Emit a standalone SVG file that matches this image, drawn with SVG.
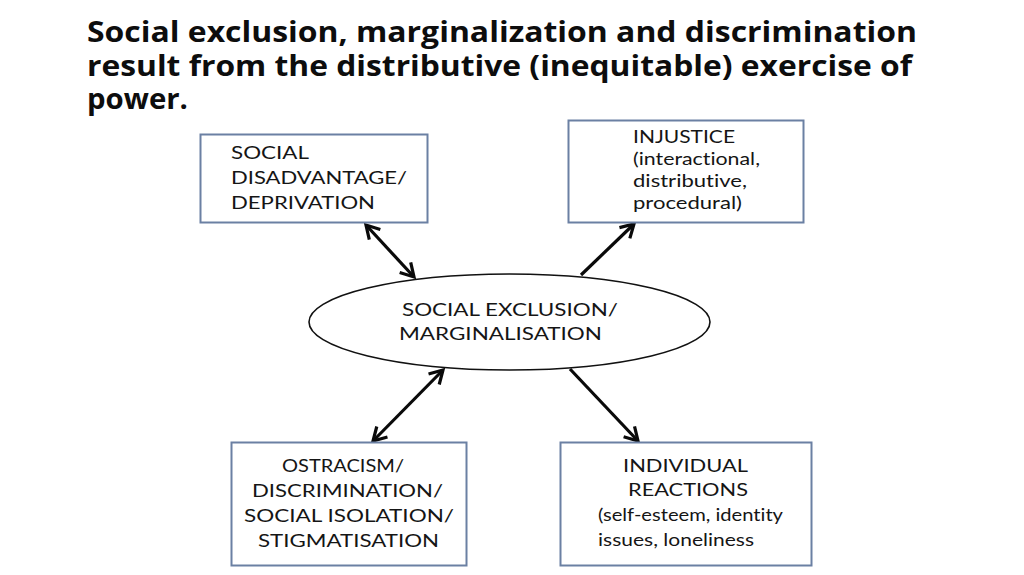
<svg xmlns="http://www.w3.org/2000/svg" width="1024" height="575" viewBox="0 0 1024 575">
<defs>
<style>
.title{font-family:"Open Sans","Noto Sans","Liberation Sans",sans-serif;font-weight:700;font-size:29px;fill:#0d0d0d}
.box{fill:#fff;stroke:#6b80a3;stroke-width:2}
.ell{fill:#fff;stroke:#111;stroke-width:1.6}
.lbl{font-family:Lato,"Open Sans","Liberation Sans",sans-serif;font-size:18px;fill:#151515;font-variant-ligatures:none}
.conn{stroke:#0a0a0a;stroke-width:3.2;fill:none}
</style>
<marker id="ah" viewBox="0 0 18 18" refX="15" refY="9" markerWidth="18" markerHeight="18" markerUnits="userSpaceOnUse" orient="auto-start-reverse">
<path d="M2,1.5 L15,9 L2,16.5" fill="none" stroke="#0a0a0a" stroke-width="3.2"/>
</marker>
</defs>
<rect width="1024" height="575" fill="#fff"/>
<g id="title">
<text class="title" x="87" y="42" textLength="830" lengthAdjust="spacingAndGlyphs">Social exclusion, marginalization and discrimination</text>
<text class="title" x="87" y="76" textLength="825" lengthAdjust="spacingAndGlyphs">result from the distributive (inequitable) exercise of</text>
<text class="title" x="87" y="109" textLength="101" lengthAdjust="spacingAndGlyphs">power.</text>
</g>
<g id="connectors">
<line class="conn" x1="366" y1="225" x2="414" y2="277" marker-start="url(#ah)" marker-end="url(#ah)"/>
<line class="conn" x1="581" y1="275" x2="634" y2="224" marker-end="url(#ah)"/>
<line class="conn" x1="443" y1="370" x2="373" y2="441" marker-start="url(#ah)" marker-end="url(#ah)"/>
<line class="conn" x1="570" y1="369" x2="638" y2="441" marker-end="url(#ah)"/>
</g>
<g id="node-disadvantage">
<rect class="box" x="200.5" y="134.5" width="227" height="88"/>
<text class="lbl" x="231" y="159" textLength="78" lengthAdjust="spacingAndGlyphs">SOCIAL</text>
<text class="lbl" x="231" y="184" textLength="176" lengthAdjust="spacingAndGlyphs">DISADVANTAGE/</text>
<text class="lbl" x="231" y="209" textLength="144" lengthAdjust="spacingAndGlyphs">DEPRIVATION</text>
</g>
<g id="node-injustice">
<rect class="box" x="568.5" y="120.5" width="235" height="102"/>
<text class="lbl" x="633" y="143" textLength="102" lengthAdjust="spacingAndGlyphs">INJUSTICE</text>
<text class="lbl" x="633" y="165" textLength="127" lengthAdjust="spacingAndGlyphs">(interactional,</text>
<text class="lbl" x="633" y="187" textLength="114" lengthAdjust="spacingAndGlyphs">distributive,</text>
<text class="lbl" x="633" y="209" textLength="109" lengthAdjust="spacingAndGlyphs">procedural)</text>
</g>
<g id="node-exclusion">
<ellipse class="ell" cx="509.5" cy="322" rx="200.5" ry="48"/>
<text class="lbl" x="402" y="316" textLength="216" lengthAdjust="spacingAndGlyphs">SOCIAL EXCLUSION/</text>
<text class="lbl" x="399" y="340" textLength="203" lengthAdjust="spacingAndGlyphs">MARGINALISATION</text>
</g>
<g id="node-ostracism">
<rect class="box" x="231.5" y="442.5" width="235" height="123"/>
<text class="lbl" x="282" y="472" textLength="122" lengthAdjust="spacingAndGlyphs">OSTRACISM/</text>
<text class="lbl" x="252" y="497" textLength="191" lengthAdjust="spacingAndGlyphs">DISCRIMINATION/</text>
<text class="lbl" x="244" y="522" textLength="210" lengthAdjust="spacingAndGlyphs">SOCIAL ISOLATION/</text>
<text class="lbl" x="258" y="547" textLength="181" lengthAdjust="spacingAndGlyphs">STIGMATISATION</text>
</g>
<g id="node-reactions">
<rect class="box" x="560.5" y="442.5" width="251" height="123"/>
<text class="lbl" x="623" y="472" textLength="125" lengthAdjust="spacingAndGlyphs">INDIVIDUAL</text>
<text class="lbl" x="628" y="496" textLength="120" lengthAdjust="spacingAndGlyphs">REACTIONS</text>
<text class="lbl" x="598" y="521" textLength="185" lengthAdjust="spacingAndGlyphs">(self-esteem, identity</text>
<text class="lbl" x="598" y="546" textLength="156" lengthAdjust="spacingAndGlyphs">issues, loneliness</text>
</g>
</svg>
